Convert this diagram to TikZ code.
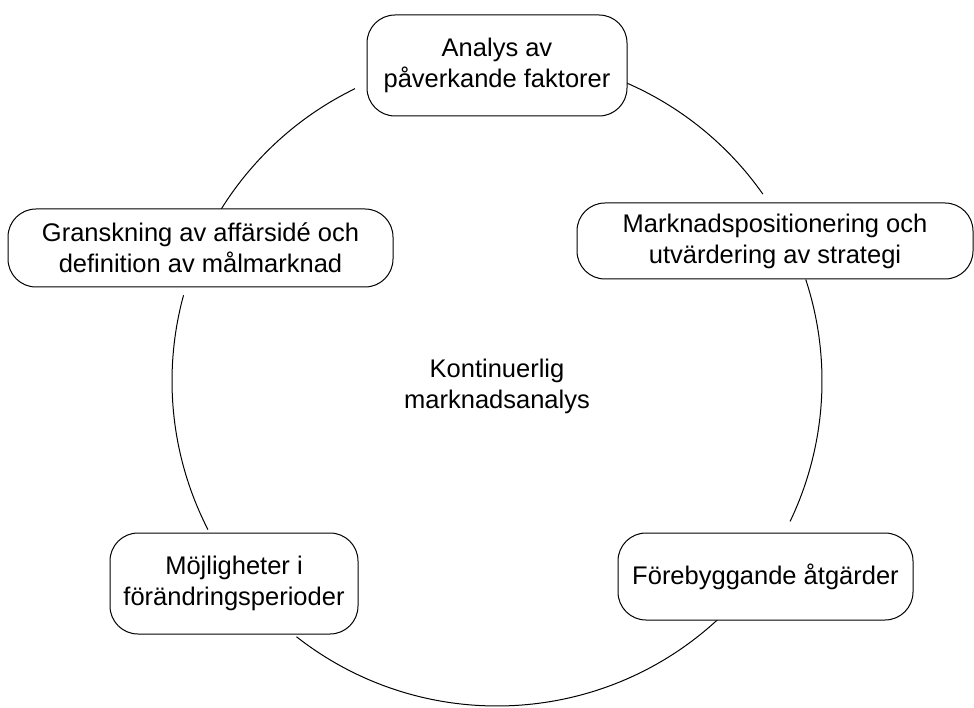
\documentclass[tikz,border=0pt]{standalone}
\usepackage{fontspec}
\setmainfont{Liberation Sans}
\usetikzlibrary{calc}
\begin{document}
\begin{tikzpicture}[x=1pt,y=1pt,
  box/.style={draw=black, fill=white, line width=1pt, rounded corners=28pt,
    rectangle, align=center, inner sep=0pt, font=\fontsize{25.5}{31}\selectfont},
  ring/.style={draw=black, line width=1pt}]
\useasboundingbox (0,0) rectangle (974,-708);
\coordinate (C) at (497,-381);
\def\R{325}
% arcs
\coordinate (a1) at ($(C)+(66.8:\R)$);
\coordinate (a2) at ($(C)+(18.2:\R)$);
\coordinate (a3) at ($(C)+(-46.6:\R)$);
\coordinate (a4) at ($(C)+(-152.8:\R)$);
\coordinate (a5) at ($(C)+(148.2:\R)$);
\draw[ring] (a1) arc[start angle=66.8, end angle=35.1, radius=\R];
\draw[ring] (a2) arc[start angle=18.2, end angle=-25.6, radius=\R];
\draw[ring] (a3) arc[start angle=-46.6, end angle=-128.1, radius=\R];
\draw[ring] (a4) arc[start angle=-152.8, end angle=-195.3, radius=\R];
\draw[ring] (a5) arc[start angle=148.2, end angle=115.9, radius=\R];
% boxes
\node[box, minimum width=260pt, minimum height=101pt] (top) at (497,-65.5) {Analys av\\påverkande faktorer};
\node[box, minimum width=385pt, minimum height=78pt] (left) at (200.5,-248) {Granskning av affärsidé och\\definition av målmarknad};
\node[box, minimum width=396pt, minimum height=76pt] (right) at (775,-241) {Marknadspositionering och\\utvärdering av strategi};
\node[box, minimum width=248pt, minimum height=101pt] (ll) at (234,-583.5) {Möjligheter i\\förändringsperioder};
\node[box, minimum width=295pt, minimum height=87pt] (lr) at (765.5,-576.5) {Förebyggande åtgärder};
\node[align=center, inner sep=0pt, font=\fontsize{25.5}{31}\selectfont] (center) at (497,-386) {Kontinuerlig\\marknadsanalys};
\end{tikzpicture}
\end{document}
